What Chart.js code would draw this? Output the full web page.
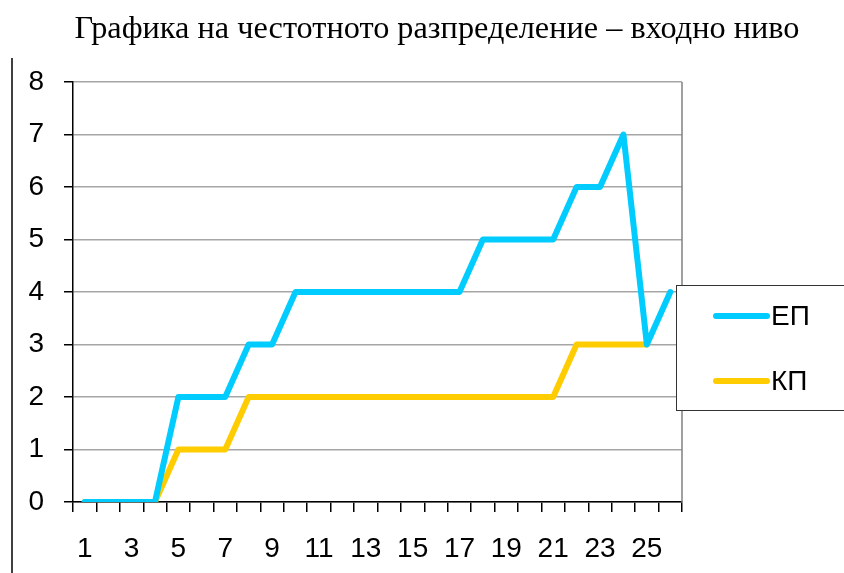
<!DOCTYPE html>
<html><head><meta charset="utf-8">
<script src="https://cdn.jsdelivr.net/npm/chart.js@4.4.1/dist/chart.umd.min.js"></script>
<style>html,body{margin:0;padding:0;background:#fff;}#wrap{width:844px;height:573px;position:relative;}</style>
</head><body><div id="wrap"><canvas id="c" width="844" height="573"></canvas></div>
<script>
const titleText = 'Графика на честотното разпределение – входно ниво';
const categories = ['1','2','3','4','5','6','7','8','9','10','11','12','13','14','15','16','17','18','19','20','21','22','23','24','25','26'];
const seriesNames = ['ЕП','КП'];
const epValues = [0,0,0,0,2,2,2,3,3,4,4,4,4,4,4,4,4,5,5,5,5,6,6,7,3,4];
const kpValues = [0,0,0,0,1,1,1,2,2,2,2,2,2,2,2,2,2,2,2,2,2,3,3,3,3,null];
const yTicks = [0,1,2,3,4,5,6,7,8];
const colors = ['#00CCFF','#FFCC00'];

const decor = {
  id:'decor',
  afterDraw(chart){
    const ctx = chart.ctx, a = chart.chartArea;
    ctx.save();
    ctx.fillStyle = '#000';
    ctx.font = '30px "Liberation Serif", "Times New Roman", serif';
    ctx.textAlign = 'center'; ctx.textBaseline = 'middle';
    ctx.save();
    ctx.translate(437, 30);
    const w = ctx.measureText(titleText).width;
    ctx.scale(725 / w, 1.05);
    ctx.fillText(titleText, 0, 0);
    ctx.restore();
    ctx.strokeStyle = '#000'; ctx.lineWidth = 1.5;
    ctx.beginPath(); ctx.moveTo(12, 58); ctx.lineTo(12, 573); ctx.stroke();
    ctx.strokeStyle = '#808080'; ctx.lineWidth = 1.5;
    ctx.beginPath(); ctx.moveTo(a.right, a.top); ctx.lineTo(a.right, a.bottom); ctx.stroke();
    const lx = 676, ly = 285, lw = 180, lh = 125;
    ctx.fillStyle = '#fff'; ctx.fillRect(lx, ly, lw, lh);
    ctx.strokeStyle = '#333'; ctx.lineWidth = 1;
    ctx.strokeRect(lx + 0.5, ly + 0.5, lw, lh);
    ctx.font = '28px "Liberation Sans", Arial, sans-serif';
    ctx.textAlign = 'left'; ctx.textBaseline = 'middle';
    chart.data.datasets.forEach((ds, i) => {
      const y = i === 0 ? 316 : 381;
      ctx.strokeStyle = ds.borderColor; ctx.lineWidth = 6; ctx.lineCap = 'round';
      ctx.beginPath(); ctx.moveTo(716, y); ctx.lineTo(767, y); ctx.stroke();
      ctx.fillStyle = '#000';
      ctx.fillText(ds.label, 771, y + 1);
    });
    ctx.restore();
  }
};

new Chart(document.getElementById('c'), {
  type:'line',
  data:{
    labels: categories,
    datasets:[
      {label: seriesNames[0], data: epValues, borderColor: colors[0], backgroundColor: colors[0], borderWidth: 6, pointRadius: 0, tension: 0, borderJoinStyle:'round', borderCapStyle:'round'},
      {label: seriesNames[1], data: kpValues, borderColor: colors[1], backgroundColor: colors[1], borderWidth: 6, pointRadius: 0, tension: 0, borderJoinStyle:'round', borderCapStyle:'round'}
    ]
  },
  options:{
    responsive:false, animation:false,
    layout:{padding:{left:0, right:162, top:82, bottom:0}},
    plugins:{legend:{display:false}, title:{display:false}, tooltip:{enabled:false}},
    scales:{
      x:{
        type:'category', offset:true,
        grid:{offset:true, drawOnChartArea:false, tickLength:10, tickColor:'#000', lineWidth:1.5},
        border:{color:'#000', width:1.5},
        ticks:{autoSkip:false, maxRotation:0, minRotation:0, padding:20, color:'#000',
          font:{family:'"Liberation Sans", Arial, sans-serif', size:28},
          callback:(v,i)=> i%2===0 ? categories[i] : ''},
        afterFit:(s)=>{ s.height = 71; }
      },
      y:{
        min:0, max:8,
        afterBuildTicks:(s)=>{ s.ticks = yTicks.map(v=>({value:v})); },
        grid:{color:'#A6A6A6', lineWidth:1.5, tickLength:9, tickColor:'#000'},
        border:{color:'#000', width:1.5},
        ticks:{padding:20, color:'#000', font:{family:'"Liberation Sans", Arial, sans-serif', size:28}},
        afterFit:(s)=>{ s.width = 73; }
      }
    }
  },
  plugins:[decor]
});
</script></body></html>
